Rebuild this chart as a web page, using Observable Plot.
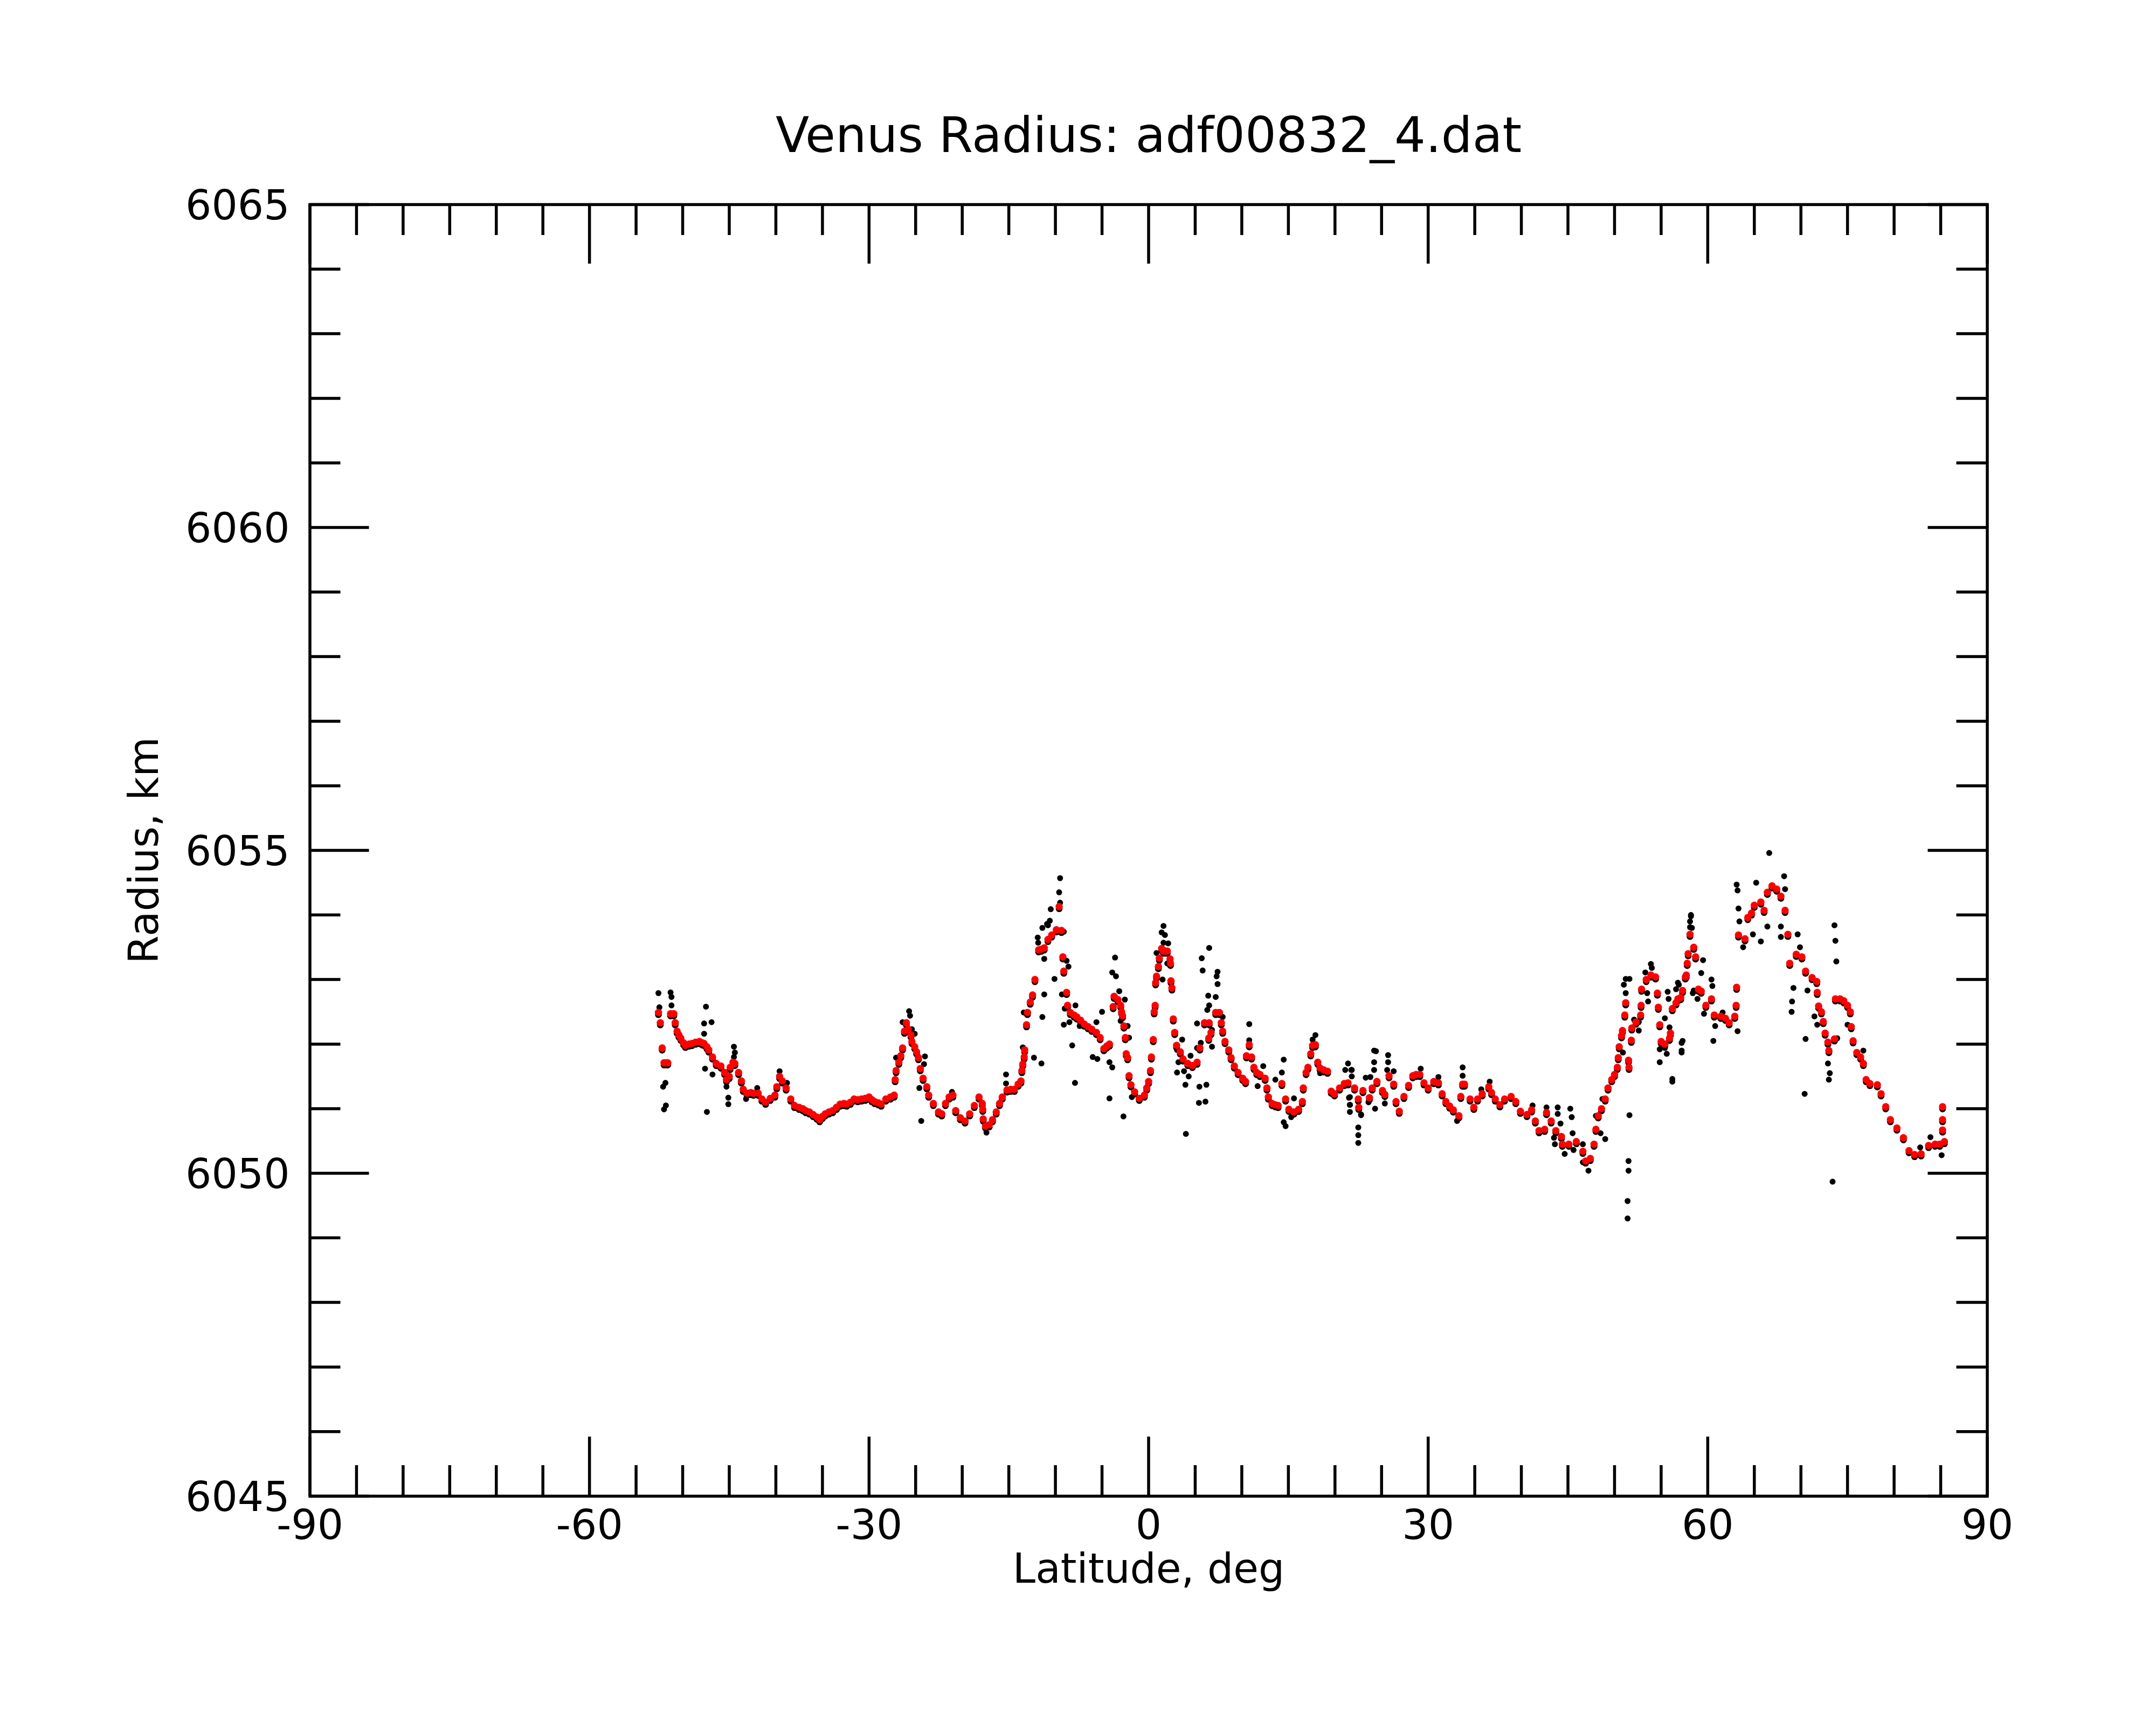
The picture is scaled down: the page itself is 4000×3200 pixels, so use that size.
<!DOCTYPE html>
<html>
<head>
<meta charset="utf-8">
<script src="https://cdn.jsdelivr.net/npm/d3@7"></script>
<script src="https://cdn.jsdelivr.net/npm/@observablehq/plot@0.6"></script>
<style>
  html, body { margin: 0; padding: 0; background: #ffffff; }
  #chart svg { display: block; }
</style>
</head>
<body>
<div id="chart"></div>
<script>
// ---------- text ----------
const titleText = "Venus Radius: adf00832_4.dat";
const xLabelText = "Latitude, deg";
const yLabelText = "Radius, km";

// ---------- tick values / labels ----------
const xMajorTicks = [-90, -60, -30, 0, 30, 60, 90];
const xTickLabels = ["-90", "-60", "-30", "0", "30", "60", "90"];
const xMinorTicks = [-85,-80,-75,-70,-65,-55,-50,-45,-40,-35,-25,-20,-15,-10,-5,5,10,15,20,25,35,40,45,50,55,65,70,75,80,85];
const yMajorTicks = [6045, 6050, 6055, 6060, 6065];
const yTickLabels = ["6045", "6050", "6055", "6060", "6065"];
const yMinorTicks = [6046,6047,6048,6049,6051,6052,6053,6054,6056,6057,6058,6059,6061,6062,6063,6064];

// ---------- smoothed radius (red) ----------
const redLat = [
-52.6,-52.4,-52.2,-52.0,-51.8,-51.6,-51.3,-50.95,-50.8,-50.6,-50.4,-50.2,-49.9,-49.7,-49.3,-49.0,-48.6,-48.2,-47.9,-47.7,
-47.4,-47.2,-46.8,-46.4,-45.9,-45.5,-45.3,-45.0,-44.9,-44.6,-44.4,-44.0,-43.7,-43.5,-43.1,-42.7,-42.4,-41.9,-41.5,-41.1,
-40.6,-40.1,-39.9,-39.6,-39.3,-38.9,-38.4,-38.0,-37.5,-37.1,-36.8,-36.4,-36.0,-35.6,-35.3,-35.0,-34.7,-34.3,-33.9,-33.5,
-33.1,-32.7,-32.4,-32.0,-31.6,-31.2,-30.8,-30.4,-30.0,-29.7,-29.4,-29.0,-28.7,-28.2,-27.7,-27.3,-27.2,-27.1,-26.8,-26.6,
-26.4,-26.2,-26.0,-25.8,-25.5,-25.4,-25.1,-24.9,-24.7,-24.5,-24.2,-23.8,-23.6,-23.1,-22.55,-22.2,-21.8,-21.4,-21.0,-20.7,
-20.2,-19.7,-19.2,-18.7,-18.2,-17.85,-17.8,-17.75,-17.5,-17.1,-16.75,-16.35,
-16.0,-15.7,-15.2,-14.8,-14.4,-14.0,-13.7,-13.6,-13.5,-13.35,-13.3,-13.1,-13.0,-12.7,-12.45,-12.2,-11.8,-11.5,-11.2,-10.8,
-10.4,-9.9,-9.6,-9.35,-9.2,-9.1,-8.8,-8.7,-8.4,-8.0,-7.7,-7.3,-6.9,-6.5,-6.1,-5.6,-5.2,-4.8,-4.5,-4.2,
-3.8,-3.7,-3.3,-3.0,-2.9,-2.8,-2.65,-2.5,-2.4,-2.25,-2.1,-1.9,-1.5,-1.0,-0.45,-0.2,0.0,0.2,0.3,0.5,
0.6,0.7,0.75,0.85,1.05,1.15,1.4,1.6,1.8,2.0,2.3,2.35,2.4,2.5,2.65,2.8,3.0,3.4,3.7,4.2,
4.7,5.2,5.5,6.0,6.5,6.7,6.45,7.2,7.6,7.8,7.95,8.2,8.6,8.85,9.2,9.6,10.1,10.4,10.5,10.8,
11.05,11.3,11.6,11.95,12.5,12.7,12.85,13.25,13.6,13.9,14.3,14.7,15.05,15.6,16.1,16.5,16.6,16.9,17.1,17.4,
17.6,17.9,18.15,18.4,18.8,19.2,19.6,19.95,20.5,21.0,
21.4,22.1,22.5,22.55,23.0,23.7,24.0,24.5,25.1,25.35,25.8,26.3,26.55,26.9,27.4,27.9,28.35,28.7,29.1,29.55,
30.0,30.6,31.1,31.5,31.9,32.3,32.7,33.3,33.5,33.7,33.9,34.5,34.9,35.3,35.8,36.5,36.8,37.2,37.7,38.2,
38.9,39.4,39.9,40.6,41.1,41.5,41.9,42.5,42.7,43.2,43.7,44.3,44.4,45.1,45.9,46.6,46.9,47.4,47.8,48.0,
48.25,48.6,49.0,49.3,49.7,50.0,50.3,50.4,50.5,50.75,50.85,51.1,51.2,51.5,51.55,51.8,51.85,52.3,52.8,52.85,
52.9,53.4,53.9,54.4,54.6,54.7,54.85,55.0,55.4,55.9,56.0,
56.2,56.6,56.8,57.1,57.3,57.6,57.7,57.8,57.9,58.1,58.5,58.7,59.0,59.3,59.8,60.4,60.7,61.4,61.9,62.3,
62.9,63.05,63.1,63.3,64.0,64.3,64.7,65.0,65.7,66.05,66.4,66.9,67.4,67.85,68.3,68.6,68.8,69.5,70.1,70.5,
71.2,71.7,71.75,71.9,72.2,72.4,72.6,72.9,73.0,73.6,73.7,74.2,74.6,75.0,75.3,75.4,75.6,76.0,76.4,76.7,
77.0,77.4,78.2,78.6,79.1,79.6,80.3,81.0,81.6,82.2,82.9,83.7,84.4,84.9,85.4,85.2,85.2,85.2
];
const redRadius = [
6052.49,6052.33,6051.94,6051.71,6051.71,6051.71,6052.47,6052.47,6052.33,6052.20,6052.14,6052.09,6052.02,6051.98,6052.00,6052.01,6052.03,6052.04,6052.02,6052.01,
6051.96,6051.91,6051.80,6051.70,6051.66,6051.56,6051.45,6051.50,6051.64,6051.72,6051.70,6051.56,6051.43,6051.30,6051.24,6051.25,6051.24,6051.24,6051.15,6051.10,
6051.16,6051.21,6051.34,6051.50,6051.43,6051.32,6051.15,6051.05,6051.02,6051.00,6050.97,6050.95,6050.91,6050.87,6050.83,6050.88,6050.92,6050.95,6050.97,6051.02,
6051.07,6051.08,6051.07,6051.10,6051.15,6051.14,6051.15,6051.16,6051.18,6051.14,6051.11,6051.09,6051.07,6051.15,6051.18,6051.21,6051.45,6051.59,6051.72,6051.82,
6051.94,6052.20,6052.33,6052.23,6052.14,6052.04,6051.96,6051.88,6051.79,6051.62,6051.47,6051.34,6051.21,6051.08,6050.95,6050.92,6051.08,6051.18,6051.21,6050.97,
6050.86,6050.81,6050.92,6051.05,6051.18,6051.08,6050.99,6050.84,6050.73,6050.75,6050.83,6050.95,
6051.08,6051.18,6051.29,6051.30,6051.30,6051.38,6051.43,6051.59,6051.69,6051.80,6051.91,6052.30,6052.49,6052.65,6052.76,6053.00,6053.46,6053.47,6053.49,6053.62,
6053.69,6053.77,6054.13,6053.76,6053.35,6053.13,6052.80,6052.60,6052.49,6052.45,6052.42,6052.37,6052.31,6052.27,6052.23,6052.18,6052.10,6051.93,6051.97,6052.00,
6052.58,6052.74,6052.69,6052.60,6052.50,6052.44,6052.28,6052.10,6051.85,6051.79,6051.51,6051.37,6051.26,6051.16,6051.21,6051.32,6051.42,6051.59,6051.80,6052.07,
6052.50,6052.60,6052.95,6053.05,6053.20,6053.33,6053.48,6053.44,6053.44,6053.44,6053.32,6053.25,6052.98,6052.87,6052.39,6052.18,6051.98,6051.88,6051.77,6051.70,
6051.67,6051.72,6051.94,6052.33,6052.33,6052.18,6052.09,6052.49,6052.49,6052.33,6052.20,6052.04,6051.91,6051.79,6051.66,6051.56,6051.47,6051.42,6051.82,6051.99,
6051.80,6051.64,6051.56,6051.53,6051.47,6051.32,6051.18,6051.08,6051.06,6051.05,6051.39,6051.15,6050.99,6050.95,6050.99,6051.11,6051.32,6051.56,6051.64,6051.85,
6051.98,6051.99,6051.72,6051.63,6051.60,6051.58,6051.27,6051.23,6051.32,6051.39,
6051.40,6051.32,6051.15,6051.02,6051.28,6051.17,6051.32,6051.42,6051.28,6051.22,6051.51,6051.38,6051.11,6050.96,6051.19,6051.36,6051.51,6051.53,6051.53,6051.40,
6051.32,6051.42,6051.40,6051.23,6051.11,6051.04,6050.98,6050.89,6051.19,6051.38,6051.38,6051.15,6051.02,6051.15,6051.23,6051.34,6051.25,6051.15,6051.06,6051.15,
6051.19,6051.11,6050.96,6050.91,6050.98,6050.81,6050.66,6050.68,6050.94,6050.81,6050.66,6050.57,6050.45,6050.45,6050.49,6050.34,6050.19,6050.23,6050.45,6050.68,
6050.89,6051.00,6051.15,6051.32,6051.45,6051.53,6051.64,6051.79,6051.96,6052.13,6052.21,6052.45,6052.64,6051.75,6051.64,6052.06,6052.25,6052.34,6052.45,6052.60,
6052.85,6053.00,6053.07,6053.04,6052.79,6052.57,6052.30,6052.04,6052.00,6052.09,6052.17,
6052.55,6052.64,6052.70,6052.72,6052.83,6053.04,6053.07,6053.25,6053.40,6053.70,6053.50,6053.35,6052.85,6052.82,6052.60,6052.70,6052.45,6052.43,6052.40,6052.33,
6052.43,6052.60,6052.88,6053.69,6053.63,6053.96,6054.03,6054.15,6054.20,6054.07,6054.35,6054.45,6054.40,6054.29,6054.07,6053.70,6053.25,6053.39,6053.35,6053.13,
6053.03,6052.97,6052.80,6052.59,6052.50,6052.35,6052.17,6052.03,6051.90,6052.08,6052.70,6052.70,6052.67,6052.60,6052.50,6052.27,6052.05,6051.87,6051.80,6051.70,
6051.45,6051.39,6051.37,6051.23,6051.03,6050.83,6050.70,6050.55,6050.35,6050.29,6050.30,6050.43,6050.45,6050.45,6050.49,6050.67,6050.83,6051.03
];

// ---------- raw radius samples off the smoothed curve (black) ----------
const blackLat = [
-52.6,-52.5,-51.3,-51.2,-51.2,-52.1,-51.85,-52.0,-51.8,-47.5,-47.7,-46.9,-47.7,-47.6,-46.8,-47.4,-44.5,-44.4,-44.5,-45.3,
-45.1,-45.1,-43.2,-42.0,-39.6,-38.8,-25.7,-25.6,-26.4,-25.4,-25.1,-27.1,-24.6,-24.0,-24.1,-24.4,-21.1,-17.4,-15.3,-15.3,
-13.4,-13.5,
-9.5,-9.6,-9.5,-10.5,-10.6,-10.9,-11.4,-10.8,-11.9,-11.85,-11.2,-9.1,-8.8,-8.6,-10.1,-11.2,-11.4,-9.3,-9.0,-7.85,-9.1,-8.5,
-8.2,-12.3,-11.5,-7.9,-7.4,-6.0,-5.5,-5.6,-5.0,-3.6,-3.9,-3.5,-3.15,-2.55,-3.0,-2.25,-2.1,-4.2,-3.9,-4.2,-2.7,-1.8,
1.6,1.4,1.75,1.6,2.1,0.85,2.0,1.1,1.5,2.35,6.5,5.7,5.8,7.4,7.3,7.4,6.4,7.2,6.5,6.3,7.95,5.2,6.8,6.8,5.6,5.2,
3.6,3.05,3.2,3.05,3.8,4.3,3.95,5.45,6.2,5.4,6.1,4.0,4.5,10.8,10.8,11.7,12.3,13.6,14.3,14.5,14.7,14.5,15.3,15.6,
17.9,17.6,18.4,21.4,21.1,21.75,21.6,21.6,21.6,22.8,22.5,22.5,22.5,23.3,23.6,24.2,24.2,
21.8,21.8,21.5,21.6,22.8,23.8,24.3,24.4,24.2,25.7,25.7,25.6,25.35,26.3,26.3,29.2,31.1,33.1,33.7,33.7,35.7,36.6,41.2,
42.7,43.5,43.6,43.9,43.9,44.2,44.65,45.25,45.4,45.5,45.6,46.6,47.2,46.6,48.0,48.5,49.0,48.7,51.0,51.2,51.6,51.2,
50.9,51.6,51.5,51.5,51.4,51.4,52.1,52.6,52.6,53.3,53.9,54.0,53.5,53.6,54.85,54.85,55.4,55.4,55.6,55.7,55.8,55.9,
56.2,56.6,56.9,57.2,57.2,58.2,58.1,58.4,
66.6,68.2,65.2,63.1,63.2,63.3,63.4,63.8,65.7,66.4,67.85,67.85,68.3,64.85,58.2,58.1,58.3,59.5,59.3,60.4,60.5,59.6,
58.9,58.5,60.8,60.6,63.2,57.3,57.2,56.2,56.8,69.2,69.05,69.0,69.65,69.9,70.7,70.5,70.4,71.45,71.75,72.9,73.1,73.0,
73.6,73.7,73.8,73.4,73.9,75.0,76.7,83.9,85.1,82.8,61.6
];
const blackRadius = [
6052.79,6052.57,6052.80,6052.73,6052.60,6051.34,6051.40,6050.99,6051.05,6052.58,6052.32,6052.34,6052.16,6051.62,6051.53,6050.95,6051.96,6051.87,6051.80,6051.34,
6051.17,6051.07,6051.15,6051.32,6051.58,6051.40,6052.51,6052.44,6052.34,6052.23,6052.16,6051.79,6051.32,6051.81,6051.69,6050.81,6051.26,6050.63,6051.53,6051.39,
6052.49,6051.95,
6054.57,6054.35,6054.19,6054.09,6053.91,6053.86,6053.80,6053.84,6053.65,6053.57,6053.32,6053.74,6053.29,6053.20,6053.01,6052.77,6052.42,6052.77,6052.55,6052.60,6052.30,6052.34,
6051.98,6051.79,6051.70,6051.40,6052.28,6051.80,6051.77,6052.34,6052.50,6053.34,6053.11,6053.05,6052.82,6052.69,6052.36,6052.28,6052.10,6051.72,6051.64,6051.16,6050.88,6051.18,
6053.83,6053.73,6053.69,6053.57,6053.56,6053.41,6053.25,6053.20,6053.00,6052.98,6053.49,6053.33,6053.14,6053.12,6053.05,6052.93,6052.75,6052.73,6052.60,6052.53,6052.42,6052.32,6052.22,6051.96,6052.02,6051.94,
6052.07,6051.91,6051.72,6051.56,6051.58,6051.50,6051.37,6051.34,6051.37,6051.09,6051.11,6050.61,6051.82,6052.31,6052.06,6051.35,6051.66,6051.45,6051.56,6051.76,6050.73,6050.79,6050.87,6051.16,
6052.14,6052.07,6051.55,6051.70,6051.60,6051.60,6051.18,6051.06,6050.95,6050.90,6050.71,6050.59,6050.47,6051.48,6051.10,6051.90,6051.60,
6051.60,6051.50,6051.17,6051.06,6050.91,6051.49,6051.00,6051.89,6051.72,6051.83,6051.72,6051.60,6051.08,6051.58,6051.37,6051.62,6051.49,6050.81,6051.64,6051.51,6051.30,6051.42,6051.05,
6051.02,6050.55,6050.45,6051.02,6050.92,6050.77,6050.30,6051.00,6050.87,6050.62,6050.36,6050.45,6050.04,6050.17,6050.89,6050.62,6050.53,6051.15,6052.92,6053.01,6053.01,6052.79,
6051.87,6050.90,6050.19,6050.04,6049.57,6049.30,6052.38,6052.21,6052.34,6053.11,6053.24,6053.18,6052.79,6052.66,6051.92,6051.72,6052.40,6051.94,6051.85,6052.81,6052.70,6052.26,
6051.42,6052.85,6052.92,6052.02,6051.87,6053.98,6053.81,6052.79,
6054.96,6054.60,6054.50,6054.47,6054.38,6054.10,6053.90,6053.50,6053.59,6053.82,6053.82,6053.66,6054.40,6053.70,6054.00,6053.90,6053.80,6053.30,6053.10,6053.00,6052.90,6052.47,
6052.70,6052.83,6052.28,6052.05,6052.20,6052.05,6051.90,6051.46,6052.95,6052.87,6052.66,6052.50,6053.70,6053.50,6052.83,6052.08,6051.23,6052.43,6052.30,6051.70,6051.55,6051.45,
6053.84,6053.60,6053.28,6049.87,6052.09,6052.30,6051.90,6050.56,6050.28,6050.40,6052.49
];

// ---------- build tables ----------
const red = redLat.map((lat, i) => ({lat, radius: redRadius[i]}));
const black = blackLat.map((lat, i) => ({lat, radius: blackRadius[i]}));
const xLabels = xMajorTicks.map((v, i) => ({v, label: xTickLabels[i]}));
const yLabels = yMajorTicks.map((v, i) => ({v, label: yTickLabels[i]}));

// ---------- layout ----------
const W = 4000, H = 3200;
const mLeft = 574.5, mRight = 313.5, mTop = 379, mBottom = 425;
const frameW = W - mLeft - mRight, frameH = H - mTop - mBottom;
const majorLen = 110, minorLen = 57, sw = 5.5;
const tickFont = 76, titleFont = 91;
const font = "DejaVu Sans";

const chart = Plot.plot({
  width: W,
  height: H,
  marginLeft: mLeft,
  marginRight: mRight,
  marginTop: mTop,
  marginBottom: mBottom,
  style: {fontFamily: font, background: "#ffffff", color: "#000000"},
  x: {domain: [-90, 90], axis: null},
  y: {domain: [6045, 6065], axis: null},
  marks: [
    // raw samples (black), drawn beneath the smoothed curve
    Plot.dot(red, {x: "lat", y: "radius", r: 6.3, fill: "#000000", dy: 4}),
    Plot.dot(black, {x: "lat", y: "radius", r: 5.5, fill: "#000000"}),
    // smoothed radius (red)
    Plot.dot(red, {x: "lat", y: "radius", r: 6.8, fill: "#ff0000"}),

    // ticks, pointing inward on all four sides
    Plot.tickX(xMajorTicks, {x: d => d, insetTop: frameH - majorLen, stroke: "#000", strokeWidth: sw}),
    Plot.tickX(xMinorTicks, {x: d => d, insetTop: frameH - minorLen, stroke: "#000", strokeWidth: sw}),
    Plot.tickX(xMajorTicks, {x: d => d, insetBottom: frameH - majorLen, stroke: "#000", strokeWidth: sw}),
    Plot.tickX(xMinorTicks, {x: d => d, insetBottom: frameH - minorLen, stroke: "#000", strokeWidth: sw}),
    Plot.tickY(yMajorTicks, {y: d => d, insetRight: frameW - majorLen, stroke: "#000", strokeWidth: sw}),
    Plot.tickY(yMinorTicks, {y: d => d, insetRight: frameW - minorLen, stroke: "#000", strokeWidth: sw}),
    Plot.tickY(yMajorTicks, {y: d => d, insetLeft: frameW - majorLen, stroke: "#000", strokeWidth: sw}),
    Plot.tickY(yMinorTicks, {y: d => d, insetLeft: frameW - minorLen, stroke: "#000", strokeWidth: sw}),
    Plot.frame({stroke: "#000", strokeWidth: sw}),

    // tick labels
    Plot.text(xLabels, {x: "v", text: "label", frameAnchor: "bottom", lineAnchor: "bottom", dy: 79, fontSize: tickFont, fill: "#000"}),
    Plot.text(yLabels, {y: "v", text: "label", frameAnchor: "left", textAnchor: "end", lineAnchor: "bottom", dx: -37.5, dy: 27.7, fontSize: tickFont, fill: "#000"}),

    // title and axis labels
    Plot.text([titleText], {text: d => d, frameAnchor: "top", lineAnchor: "bottom", dy: -97.3, fontSize: titleFont, fill: "#000"}),
    Plot.text([xLabelText], {text: d => d, frameAnchor: "bottom", lineAnchor: "bottom", dy: 160, fontSize: tickFont, fill: "#000"}),
    Plot.text([yLabelText], {text: d => d, frameAnchor: "left", textAnchor: "middle", lineAnchor: "bottom", rotate: -90, dx: -281.8, fontSize: tickFont, fill: "#000"})
  ]
});

document.getElementById("chart").appendChild(chart);
</script>
</body>
</html>
